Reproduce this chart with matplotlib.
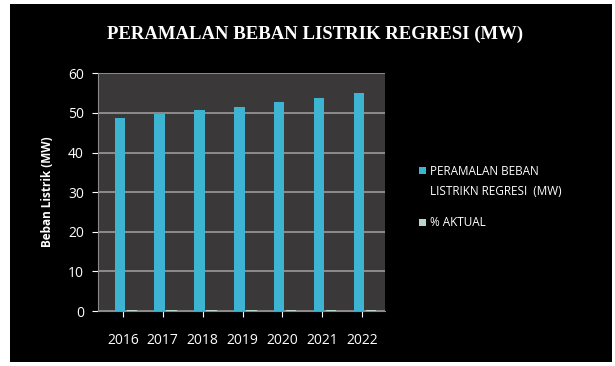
import matplotlib.pyplot as plt
import matplotlib.patches as mpatches
import numpy as np

years = ['2016', '2017', '2018', '2019', '2020', '2021', '2022']
peramalan = [48.6, 49.6, 50.7, 51.6, 52.8, 53.8, 55.0]
aktual = [0.4, 0.4, 0.4, 0.4, 0.4, 0.4, 0.4]

bar_color = '#3cb4d2'
akt_color = '#b8d8c8'

fig = plt.figure(figsize=(6.15, 3.66), dpi=100, facecolor='white')
# black chart area with a thin white margin
fig.patches.append(mpatches.Rectangle((10 / 615, 4 / 366), 602 / 615, 358 / 366,
                                      transform=fig.transFigure, facecolor='black',
                                      edgecolor='none', zorder=-10))

ax = fig.add_axes([0.159, 0.150, 0.467, 0.650])
ax.set_facecolor('#3a3838')
x = np.arange(len(years))
ax.bar(x, peramalan, width=0.26, color=bar_color, zorder=3)
ax.bar(x + 0.3, aktual, width=0.26, color=akt_color, zorder=3)

ax.set_ylim(0, 60)
ax.set_xlim(-0.55, 6.65)
ax.set_yticks(range(0, 61, 10))
ax.set_xticks(x + 0.08)
ax.set_xticklabels(years)
ax.yaxis.grid(True, color='#9a9a9a', linewidth=1.2, zorder=1)
for s in ['top', 'right']:
    ax.spines[s].set_visible(False)
ax.spines['left'].set_color('#8a8a8a')
ax.spines['bottom'].set_color('#8a8a8a')
ax.tick_params(colors='white', labelsize=10, length=4)
ax.tick_params(axis='x', pad=12)
ax.tick_params(axis='y', pad=6)
for t in ax.get_xticklabels() + ax.get_yticklabels():
    t.set_fontfamily('Open Sans')
    t.set_color('white')

ax.set_ylabel('Beban Listrik (MW)', color='white', fontsize=8.5,
              fontweight='bold', fontfamily='Open Sans', labelpad=10)

fig.text(0.512, 0.905, 'PERAMALAN BEBAN LISTRIK REGRESI (MW)', color='white',
         fontsize=13.5, fontweight='bold', fontfamily='Liberation Serif',
         ha='center', va='center')

# legend drawn by hand: marker sits on the first text line, as in Excel
legend_items = [(bar_color, 'PERAMALAN BEBAN\nLISTRIKN REGRESI  (MW)', 171),
                (akt_color, '% AKTUAL', 222)]
for col, lab, ypx in legend_items:
    yf = 1 - ypx / 366
    fig.patches.append(mpatches.Rectangle((419 / 615, yf - 3.5 / 366), 7 / 615, 7 / 366,
                                          transform=fig.transFigure, facecolor=col,
                                          edgecolor='none'))
    fig.text(430 / 615, yf + 6 / 366, lab, color='white', fontsize=8.5,
             fontfamily='Open Sans', ha='left', va='top', linespacing=1.75)

fig.savefig('out.png', dpi=100, facecolor=fig.get_facecolor())
